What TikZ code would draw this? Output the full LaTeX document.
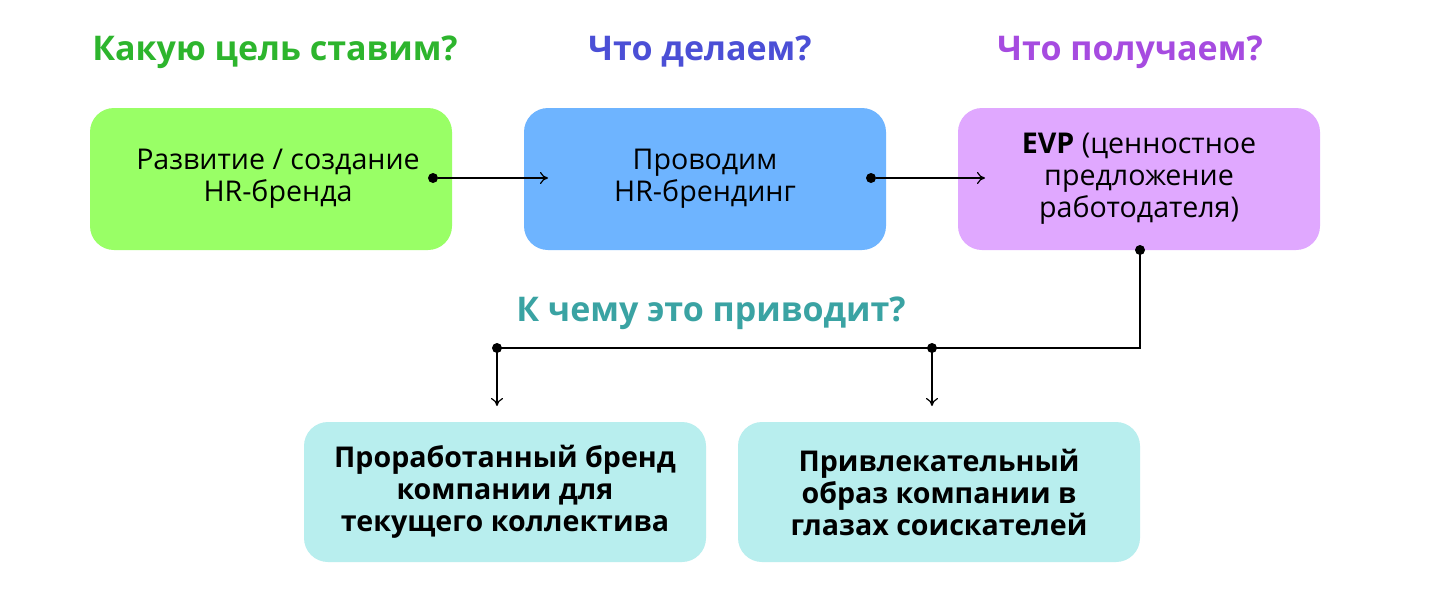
\documentclass[tikz,border=0pt]{standalone}
\usepackage{fontspec}
\setmainfont{Open Sans}
\usetikzlibrary{arrows.meta}
\definecolor{cg}{HTML}{99FF66}
\definecolor{cb}{HTML}{6EB4FF}
\definecolor{cp}{HTML}{E0A8FF}
\definecolor{cc}{HTML}{B8EEEE}
\definecolor{tg}{HTML}{2DB52D}
\definecolor{tb}{HTML}{4B4FD6}
\definecolor{tp}{HTML}{A64BE0}
\definecolor{tt}{HTML}{3AA3A3}
\begin{document}
\begin{tikzpicture}[x=0.5pt,y=-0.5pt,
 box/.style={rounded corners=12pt,minimum width=181pt,minimum height=71pt,inner sep=0pt,align=center,font=\fontsize{14.3}{16}\selectfont},
 hd/.style={font=\fontsize{17}{19}\selectfont\bfseries},
 dot/.style={circle,fill=black,inner sep=0pt,minimum size=5pt},
 arr/.style={-{To[length=4pt,width=6pt]},line width=0.6pt},
 ln/.style={line width=0.6pt}]
\useasboundingbox[fill=white] (0,0) rectangle (1440,606);
\node[hd,text=tg] (h1) at (275,52) {Какую цель ставим?};
\node[hd,text=tb] (h2) at (700,52) {Что делаем?};
\node[hd,text=tp] (h3) at (1130,52) {Что получаем?};
\node[hd,text=tt] (h4) at (711,313) {К чему это приводит?};
\node[box,fill=cg] (b1) at (271,179) {\hspace*{7pt}Развитие / создание\\\hspace*{7pt}HR-бренда};
\node[box,fill=cb] (b2) at (705,179) {Проводим\\HR-брендинг};
\node[box,fill=cp] (b3) at (1139,179) {\textbf{EVP} (ценностное\\предложение\\работодателя)};
\node[box,fill=cc,minimum width=201pt,minimum height=70pt,font=\fontsize{14.3}{16}\selectfont\bfseries] (b4) at (505,492) {Проработанный бренд\\компании для\\текущего коллектива};
\node[box,fill=cc,minimum width=201pt,minimum height=70pt,font=\fontsize{14.3}{16}\selectfont\bfseries] (b5) at (939,492) {Привлекательный\\образ компании в\\глазах соискателей};
\node[dot] (d1) at (433,178) {};
\node[dot] (d2) at (871,178) {};
\node[dot] (d3) at (1140,250) {};
\node[dot] (d4) at (497,348) {};
\node[dot] (d5) at (932,348) {};
\coordinate (e1) at (548,178);
\coordinate (e2) at (985,178);
\coordinate (e4) at (497,406);
\coordinate (e5) at (932,406);
\coordinate (c1) at (1140,348);
\draw[arr] (d1) -- (e1);
\draw[arr] (d2) -- (e2);
\draw[ln] (d3.center) -- (c1) -- (d4.center);
\draw[arr] (d4.center) -- (e4);
\draw[arr] (d5.center) -- (e5);
\end{tikzpicture}
\end{document}
